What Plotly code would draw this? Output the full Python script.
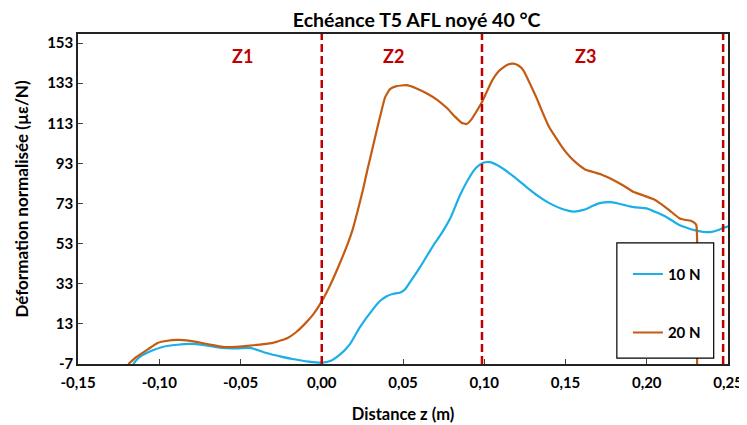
import plotly.graph_objects as go

# ---- data ----
x_10N = [-0.116, -0.112, -0.104, -0.098, -0.089, -0.081, -0.072, -0.061, -0.052, -0.044, -0.034,
         -0.025, -0.018, -0.008, 0.0, 0.006, 0.011, 0.017, 0.0235, 0.0317, 0.036, 0.040, 0.044,
         0.048, 0.051, 0.054, 0.0605, 0.0686, 0.074, 0.079, 0.085, 0.091, 0.095, 0.099, 0.1035,
         0.110, 0.118, 0.126, 0.133, 0.140, 0.148, 0.155, 0.161, 0.166, 0.171, 0.179, 0.186,
         0.192, 0.200, 0.206, 0.212, 0.220, 0.225, 0.230, 0.235, 0.240, 0.244, 0.247, 0.251]
y_10N = [-7, -3.5, -0.2, 1.5, 2.6, 3, 2.4, 1, 0.8, 1, -1.5,
         -3.3, -4.5, -5.8, -6.3, -5.2, -2.5, 2.5, 11.4, 20.5, 24.5, 26.8, 28,
         28.5, 30, 33.4, 41.3, 52, 58.5, 65.5, 77, 86.2, 90.8, 93.2, 93.6,
         91.2, 86.5, 81.2, 76.8, 73.2, 70.3, 69, 69.8, 71.5, 73.2, 73.6, 72.3,
         71.2, 70.6, 68.6, 66.3, 62.3, 60.8, 59.6, 58.8, 58.9, 59.8, 60.8, 61.8]

x_20N = [-0.119, -0.114, -0.107, -0.101, -0.095, -0.089, -0.083, -0.077, -0.069, -0.061, -0.053,
         -0.046, -0.038, -0.030, -0.021, -0.016, -0.011, -0.005, 0.0, 0.005, 0.011, 0.016, 0.019,
         0.022, 0.0254, 0.028, 0.031, 0.034, 0.037, 0.039, 0.042, 0.046, 0.052, 0.058, 0.065,
         0.071, 0.077, 0.082, 0.086, 0.089, 0.092, 0.095, 0.0986, 0.102, 0.105, 0.109, 0.112,
         0.115, 0.118, 0.121, 0.124, 0.128, 0.132, 0.136, 0.140, 0.148, 0.153, 0.157, 0.162,
         0.167, 0.172, 0.177, 0.185, 0.192, 0.198, 0.204, 0.208, 0.214, 0.220, 0.224, 0.227,
         0.229, 0.2305, 0.231, 0.231]
y_20N = [-7, -3.5, 0.3, 3.5, 4.6, 5, 4.8, 4, 2.7, 1.5, 1.5,
         2, 2.7, 3.5, 6, 8.7, 12.5, 18, 24.2, 32, 43, 53, 60,
         69, 80, 89.5, 99.7, 110, 120, 126, 130, 131.5, 132, 130.5, 127.7,
         124.7, 120.6, 116.3, 113.3, 112.6, 114.8, 118.6, 123.6, 129.5, 134.5, 139, 141,
         142.4, 142.7, 141.8, 139.5, 133, 126, 118.2, 111, 101, 96, 93, 90,
         88.7, 87.5, 85.7, 82.2, 78.7, 77, 75.2, 73.2, 69.6, 65.7, 64.8, 64.4,
         63.6, 62.3, 55, -7]

series_names = ["10 N", "20 N"]
zone_labels = ["Z1", "Z2", "Z3"]
zone_x = [-0.0485, 0.044, 0.162]
zone_y = 146.5
boundaries = [0.0, 0.0986, 0.247]

x_tickvals = [-0.15, -0.10, -0.05, 0.0, 0.05, 0.10, 0.15, 0.20, 0.25]
x_ticktext = ["-0,15", "-0,10", "-0,05", "0,00", "0,05", "0,10", "0,15", "0,20", "0,25"]
y_tickvals = [-7, 13, 33, 53, 73, 93, 113, 133, 153]
y_ticktext = [str(v) for v in y_tickvals]

FONT = "Lato"
BLUE = "#1AAFE6"
ORANGE = "#C55A11"
RED = "#C00000"

fig = go.Figure()
fig.add_trace(go.Scatter(x=x_10N, y=y_10N, mode="lines", name=series_names[0],
                         line=dict(color=BLUE, width=2.2, shape="spline", smoothing=0.6),
                         legendgroup="a"))
fig.add_trace(go.Scatter(x=x_20N, y=y_20N, mode="lines", name=series_names[1],
                         line=dict(color=ORANGE, width=2.2, shape="spline", smoothing=0.4),
                         legendgroup="b"))

for b in boundaries:
    fig.add_shape(type="line", xref="x", yref="paper", x0=b, x1=b, y0=0, y1=1,
                  line=dict(color=RED, width=2.5, dash="8px,4px"))

for lab, zx in zip(zone_labels, zone_x):
    fig.add_annotation(x=zx, y=zone_y, text=lab, showarrow=False,
                       font=dict(family=FONT, size=18, color=RED, weight="bold"))

# legend box
fig.add_shape(type="rect", xref="paper", yref="paper", x0=0.829, x1=0.978, y0=0.018, y1=0.367,
              line=dict(color="black", width=1.2), fillcolor="white", layer="above")

fig.update_layout(
    width=739, height=417,
    margin=dict(l=70, r=19, t=26, b=61, autoexpand=False),
    plot_bgcolor="white", paper_bgcolor="white",
    title=dict(text="Echéance T5 AFL noyé 40 °C", x=0.553, xanchor="center", y=0.972, yanchor="middle",
               font=dict(family=FONT, size=19.5, color="black", weight="bold")),
    font=dict(family=FONT, size=15, color="black", weight="bold"),
    showlegend=True,
    legend=dict(x=0.846, xanchor="left", y=0.322, yanchor="top", bgcolor="rgba(0,0,0,0)",
                borderwidth=0, tracegroupgap=36, itemwidth=30,
                font=dict(family=FONT, size=15, color="black", weight="bold")),
    xaxis=dict(range=[-0.15, 0.25], tickvals=x_tickvals, ticktext=x_ticktext, automargin=False,
               ticks="inside", ticklen=5, tickcolor="#404040", showgrid=False, zeroline=False,
               showline=True, linecolor="#222222", linewidth=1.5, mirror=True,
               ticklabelstandoff=4,
               tickfont=dict(family=FONT, size=15, weight="bold"),
               title=dict(text="Distance z (m)", standoff=19,
                          font=dict(family=FONT, size=16.5, weight="bold"))),
    yaxis=dict(range=[-7, 157.5], tickvals=y_tickvals, ticktext=y_ticktext, automargin=False,
               ticks="inside", ticklen=5, tickcolor="#404040", showgrid=False, zeroline=False,
               showline=True, linecolor="#222222", linewidth=1.5, mirror=True,
               tickfont=dict(family=FONT, size=15, weight="bold"),
               title=dict(text="Déformation normalisée (µε/N)", standoff=14,
                          font=dict(family=FONT, size=17, weight="bold"))),
)

fig.write_html("out.html")
